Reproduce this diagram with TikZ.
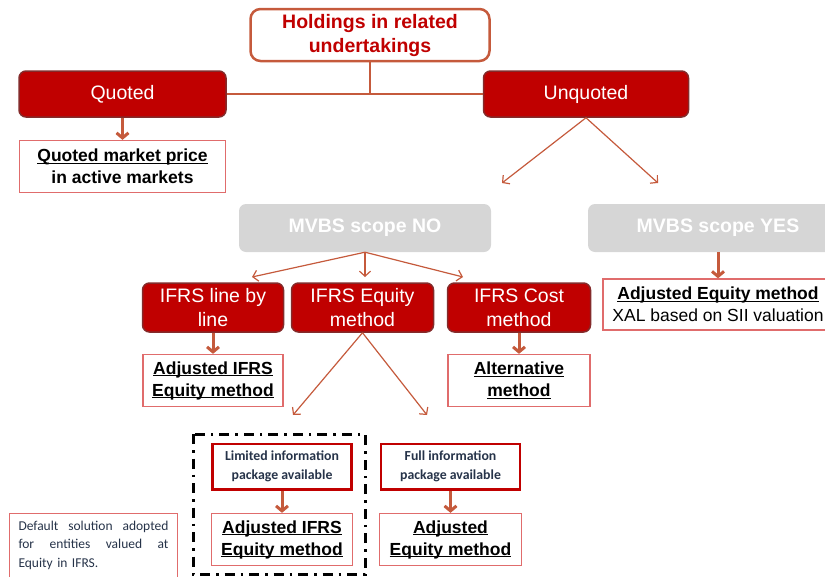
\documentclass[tikz,border=0pt]{standalone}
\usepackage{fontspec}
\setmainfont{Liberation Sans}
\newfontfamily\calibri{Carlito}
\usetikzlibrary{arrows.meta}
\definecolor{rouge}{HTML}{C00000}
\definecolor{bordeau}{HTML}{842B2B}
\definecolor{brique}{HTML}{C55A3C}
\definecolor{rose}{HTML}{E06C6C}
\definecolor{gris}{HTML}{D6D6D6}
\definecolor{encre}{HTML}{263349}
\newcommand{\souligne}[1]{\underline{\smash{#1}}\vphantom{#1}}
\begin{document}
\begin{tikzpicture}[x=1pt,y=-1pt,
    boiterouge/.style={draw=bordeau,line width=1.5pt,fill=rouge,rounded corners=7pt,text=white,align=center,inner sep=0pt,font=\fontsize{19.5}{24}\selectfont},
    boitegrise/.style={fill=gris,rounded corners=7pt,text=white,align=center,inner sep=0pt,font=\bfseries\fontsize{19.5}{24}\selectfont},
    boiteblanche/.style={draw=rose,line width=1.3pt,fill=white,align=center,inner sep=0pt,font=\bfseries\fontsize{17.5}{22}\selectfont},
    boiteinfo/.style={draw=rouge,line width=2.5pt,align=center,inner sep=0pt,text=encre,font=\calibri\bfseries\fontsize{13.8}{19}\selectfont},
    fleche/.style={draw=brique,line width=3pt,-{Straight Barb[length=5pt,width=12pt]}},
    flechefine/.style={draw=brique,line width=1.2pt,-{Straight Barb[length=5pt,width=11pt]}}]
    \useasboundingbox (0,0) rectangle (825,576);

    % Titre
    \node[draw=brique,line width=2.5pt,rounded corners=10pt,minimum width=239pt,minimum height=52pt,align=center,text=rouge,font=\bfseries\fontsize{19.5}{24}\selectfont] (holdings) at (370,35) {Holdings in related\\undertakings};

    % Cotées / non cotées
    \node[boiterouge,minimum width=207pt,minimum height=46pt] (quoted) at (122.5,94) {Quoted};
    \node[boiterouge,minimum width=205pt,minimum height=46pt] (unquoted) at (586,94) {Unquoted};
    \draw[brique,line width=2.5pt] (quoted.east) -- (unquoted.west);
    \draw[brique,line width=2.5pt] (holdings.south) -- (holdings.south |- quoted.east);

    \node[boiteblanche,minimum width=206pt,minimum height=52pt] (marche) at (122.5,166.5) {\souligne{Quoted market price}\\in active markets};
    \draw[fleche] (quoted.south) -- (marche.north);

    % Périmètre MVBS
    \node[boitegrise,minimum width=252pt,minimum height=48pt] (mvbsno) at (365,228) {MVBS scope NO};
    \node[boitegrise,minimum width=260pt,minimum height=48pt] (mvbsyes) at (718,228) {MVBS scope YES};
    \coordinate (versno) at (502,183);
    \coordinate (versyes) at (658,183);
    \draw[flechefine] (unquoted.south) -- (versno);
    \draw[flechefine] (unquoted.south) -- (versyes);

    \node[boiteblanche,minimum width=230pt,minimum height=51pt] (adjeq) at (718,304.5) {\souligne{Adjusted Equity method}\\{\mdseries XAL based on SII valuation}};
    \draw[fleche] (mvbsyes.south) -- (adjeq.north);

    % Méthodes IFRS
    \node[boiterouge,minimum width=141pt,minimum height=49pt] (ligne) at (213,307.5) {IFRS line by\\line};
    \node[boiterouge,minimum width=142pt,minimum height=49pt] (equite) at (362.5,307.5) {IFRS Equity\\method};
    \node[boiterouge,minimum width=143pt,minimum height=49pt] (cout) at (519,307.5) {IFRS Cost\\method};
    \coordinate (versligne) at (252,277);
    \coordinate (versequite) at (365,277);
    \coordinate (verscout) at (463,277);
    \draw[flechefine] (mvbsno.south) -- (versligne);
    \draw[flechefine] (mvbsno.south) -- (versequite);
    \draw[flechefine] (mvbsno.south) -- (verscout);

    \node[boiteblanche,minimum width=140pt,minimum height=52pt] (adjifrs) at (213,380.5) {\souligne{Adjusted IFRS}\\\souligne{Equity method}};
    \node[boiteblanche,minimum width=142pt,minimum height=52pt] (alternative) at (519,380.5) {\souligne{Alternative}\\\souligne{method}};
    \draw[fleche] (ligne.south) -- (adjifrs.north);
    \draw[fleche] (cout.south) -- (alternative.north);

    % Paquet d'information
    \coordinate (verslimite) at (293,415);
    \coordinate (verscomplet) at (427,415);
    \draw[flechefine] (equite.south) -- (verslimite);
    \draw[flechefine] (equite.south) -- (verscomplet);

    \draw[line width=3pt,dash pattern=on 10pt off 6pt on 2.5pt off 6pt] (193,434) rectangle (365,574);

    \node[boiteinfo,minimum width=139pt,minimum height=45.5pt] (limite) at (282,466.7) {Limited information\\package available};
    \node[boiteinfo,minimum width=139pt,minimum height=45.5pt] (complet) at (450.5,466.7) {Full information\\package available};
    \node[boiteblanche,minimum width=141pt,minimum height=52pt] (adjifrsbas) at (282,539.5) {\souligne{Adjusted IFRS}\\\souligne{Equity method}};
    \node[boiteblanche,minimum width=142pt,minimum height=52pt] (adjbas) at (450.5,539.5) {\souligne{Adjusted}\\\souligne{Equity method}};
    \draw[fleche] (limite.south) -- (adjifrsbas.north);
    \draw[fleche] (complet.south) -- (adjbas.north);

    % Note
    \node[draw=rose,line width=1.3pt,anchor=north,text width=150pt,inner xsep=9pt,inner ysep=7pt,align=left,text=encre,font=\calibri\fontsize{13.5}{18.5}\selectfont] (defaut) at (93.5,513)
        {Default\hfill solution\hfill adopted\\for\hfill entities\hfill valued\hfill at\\Equity in IFRS.\par\vspace{20pt}};
\end{tikzpicture}
\end{document}
